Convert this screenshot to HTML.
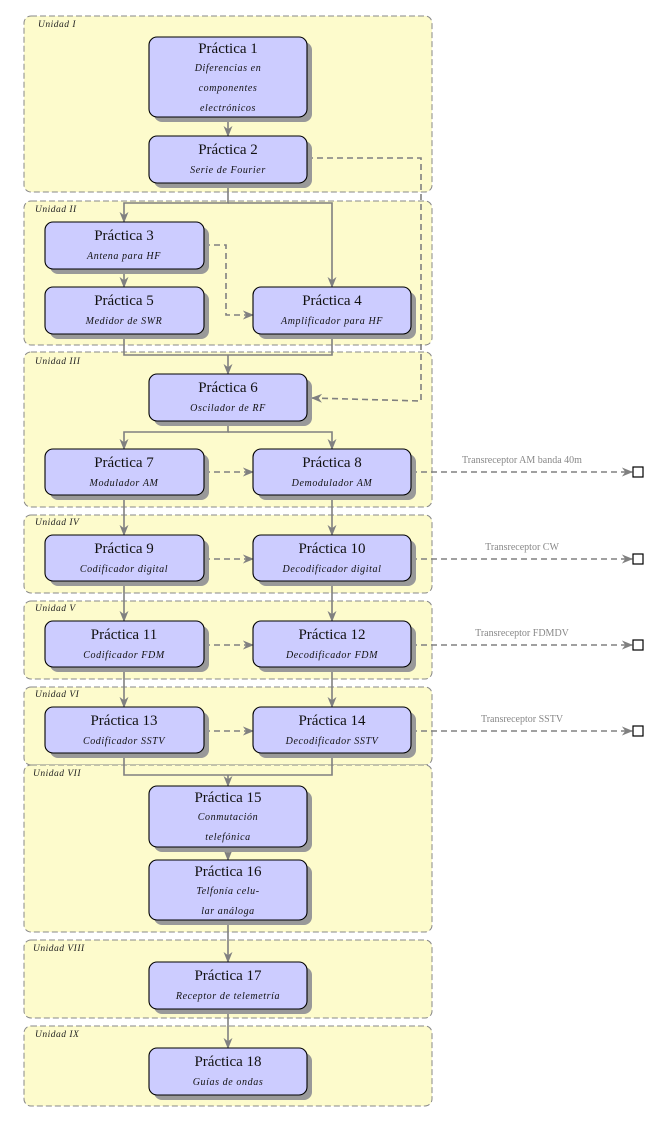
<!DOCTYPE html>
<html><head><meta charset="utf-8"><style>
html,body{margin:0;padding:0;background:#fff;}
svg{display:block;}
.t{font-family:"Liberation Serif",serif;font-size:15px;fill:#111;text-anchor:middle;}
.s{font-family:"Liberation Serif",serif;font-size:10px;font-style:italic;fill:#111;text-anchor:middle;letter-spacing:0.6px;}
.u{font-family:"Liberation Serif",serif;font-size:9.5px;font-style:italic;fill:#222;letter-spacing:0.5px;}
.l{font-family:"Liberation Serif",serif;font-size:10px;fill:#888;text-anchor:middle;}
.c{stroke:#808080;stroke-width:1.6;fill:none;}
.d{stroke:#808080;stroke-width:1.6;fill:none;stroke-dasharray:6,4;}
</style></head><body>
<svg width="656" height="1122" viewBox="0 0 656 1122" xmlns="http://www.w3.org/2000/svg">
<defs><marker id="a" viewBox="0 0 10 10" refX="9" refY="5" markerWidth="7" markerHeight="7" orient="auto"><path d="M0,1 L10,5 L0,9 L3,5 z" fill="#808080"/></marker></defs>
<g fill="#fdfbcc" stroke="#888" stroke-dasharray="6,3" stroke-width="1">
<rect x="24" y="16" width="408" height="176" rx="7"/>
<rect x="24" y="201" width="408" height="144" rx="7"/>
<rect x="24" y="352" width="408" height="155" rx="7"/>
<rect x="24" y="515" width="408" height="78" rx="7"/>
<rect x="24" y="601" width="408" height="78" rx="7"/>
<rect x="24" y="687" width="408" height="78" rx="7"/>
<rect x="24" y="765" width="408" height="167" rx="7"/>
<rect x="24" y="940" width="408" height="78" rx="7"/>
<rect x="24" y="1026" width="408" height="80" rx="7"/>
</g>
<text class="u" x="38" y="27">Unidad I</text>
<text class="u" x="35" y="212">Unidad II</text>
<text class="u" x="35" y="364">Unidad III</text>
<text class="u" x="35" y="525">Unidad IV</text>
<text class="u" x="35" y="611">Unidad V</text>
<text class="u" x="35" y="697">Unidad VI</text>
<text class="u" x="33" y="776">Unidad VII</text>
<text class="u" x="33" y="951">Unidad VIII</text>
<text class="u" x="35" y="1037">Unidad IX</text>

<path class="c" d="M228,117 V136" marker-end="url(#a)"/>
<path class="c" d="M228,183 V203 H124 V222" marker-end="url(#a)"/>
<path class="c" d="M228,203 H332 V287" marker-end="url(#a)"/>
<path class="c" d="M124,269 V287" marker-end="url(#a)"/>
<path class="c" d="M124,334 V355 H332 V334"/>
<path class="c" d="M228,355 V374" marker-end="url(#a)"/>
<path class="c" d="M228,421 V432 H124 V449" marker-end="url(#a)"/>
<path class="c" d="M228,432 H332 V449" marker-end="url(#a)"/>
<path class="c" d="M124,495 V535" marker-end="url(#a)"/>
<path class="c" d="M332,495 V535" marker-end="url(#a)"/>
<path class="c" d="M124,581 V621" marker-end="url(#a)"/>
<path class="c" d="M332,581 V621" marker-end="url(#a)"/>
<path class="c" d="M124,667 V707" marker-end="url(#a)"/>
<path class="c" d="M332,667 V707" marker-end="url(#a)"/>
<path class="c" d="M124,753 V775 H332 V753"/>
<path class="c" d="M228,775 V786" marker-end="url(#a)"/>
<path class="c" d="M228,847 V860" marker-end="url(#a)"/>
<path class="c" d="M228,920 V962" marker-end="url(#a)"/>
<path class="c" d="M228,1009 V1048" marker-end="url(#a)"/>
<path class="d" d="M307,158 H421 V401 L312,398" marker-end="url(#a)"/>
<path class="d" d="M204,245 H226 V315 H253" marker-end="url(#a)"/>
<path class="d" d="M204,472 H253" marker-end="url(#a)"/>
<path class="d" d="M204,559 H253" marker-end="url(#a)"/>
<path class="d" d="M204,645 H253" marker-end="url(#a)"/>
<path class="d" d="M204,731 H253" marker-end="url(#a)"/>
<path class="d" d="M411,472 H632" marker-end="url(#a)"/>
<path class="d" d="M411,559 H632" marker-end="url(#a)"/>
<path class="d" d="M411,645 H632" marker-end="url(#a)"/>
<path class="d" d="M411,731 H632" marker-end="url(#a)"/>
<g fill="#fff" stroke="#000" stroke-width="1.2">
<rect x="633" y="467" width="10" height="10"/><rect x="633" y="554" width="10" height="10"/>
<rect x="633" y="640" width="10" height="10"/><rect x="633" y="726" width="10" height="10"/>
</g>
<text class="l" x="522" y="463">Transreceptor AM banda 40m</text>
<text class="l" x="522" y="550">Transreceptor CW</text>
<text class="l" x="522" y="636">Transreceptor FDMDV</text>
<text class="l" x="522" y="722">Transreceptor SSTV</text>

<g fill="#999"><rect x="154" y="42" width="158" height="80" rx="8"/><rect x="154" y="141" width="158" height="47" rx="8"/>
<rect x="50" y="227" width="159" height="47" rx="8"/><rect x="50" y="292" width="159" height="47" rx="8"/><rect x="258" y="292" width="158" height="47" rx="8"/>
<rect x="154" y="379" width="158" height="47" rx="8"/>
<rect x="50" y="454" width="159" height="46" rx="8"/><rect x="258" y="454" width="158" height="46" rx="8"/>
<rect x="50" y="540" width="159" height="46" rx="8"/><rect x="258" y="540" width="158" height="46" rx="8"/>
<rect x="50" y="626" width="159" height="46" rx="8"/><rect x="258" y="626" width="158" height="46" rx="8"/>
<rect x="50" y="712" width="159" height="46" rx="8"/><rect x="258" y="712" width="158" height="46" rx="8"/>
<rect x="154" y="791" width="158" height="61" rx="8"/><rect x="154" y="865" width="158" height="60" rx="8"/>
<rect x="154" y="967" width="158" height="47" rx="8"/><rect x="154" y="1053" width="158" height="47" rx="8"/></g>
<g fill="#ccccff" stroke="#000" stroke-width="1.1">
<rect x="149" y="37" width="158" height="80" rx="8"/><rect x="149" y="136" width="158" height="47" rx="8"/>
<rect x="45" y="222" width="159" height="47" rx="8"/><rect x="45" y="287" width="159" height="47" rx="8"/><rect x="253" y="287" width="158" height="47" rx="8"/>
<rect x="149" y="374" width="158" height="47" rx="8"/>
<rect x="45" y="449" width="159" height="46" rx="8"/><rect x="253" y="449" width="158" height="46" rx="8"/>
<rect x="45" y="535" width="159" height="46" rx="8"/><rect x="253" y="535" width="158" height="46" rx="8"/>
<rect x="45" y="621" width="159" height="46" rx="8"/><rect x="253" y="621" width="158" height="46" rx="8"/>
<rect x="45" y="707" width="159" height="46" rx="8"/><rect x="253" y="707" width="158" height="46" rx="8"/>
<rect x="149" y="786" width="158" height="61" rx="8"/><rect x="149" y="860" width="158" height="60" rx="8"/>
<rect x="149" y="962" width="158" height="47" rx="8"/><rect x="149" y="1048" width="158" height="47" rx="8"/></g>
<text class="t" x="228" y="53">Práctica 1</text>
<text class="s" x="228" y="71">Diferencias en</text><text class="s" x="228" y="91">componentes</text><text class="s" x="228" y="111">electrónicos</text>
<text class="t" x="228" y="154">Práctica 2</text><text class="s" x="228" y="173">Serie de Fourier</text>
<text class="t" x="124" y="240">Práctica 3</text><text class="s" x="124" y="259">Antena para HF</text>
<text class="t" x="124" y="305">Práctica 5</text><text class="s" x="124" y="324">Medidor de SWR</text>
<text class="t" x="332" y="305">Práctica 4</text><text class="s" x="332" y="324">Amplificador para HF</text>
<text class="t" x="228" y="392">Práctica 6</text><text class="s" x="228" y="411">Oscilador de RF</text>
<text class="t" x="124" y="467">Práctica 7</text><text class="s" x="124" y="486">Modulador AM</text>
<text class="t" x="332" y="467">Práctica 8</text><text class="s" x="332" y="486">Demodulador AM</text>
<text class="t" x="124" y="553">Práctica 9</text><text class="s" x="124" y="572">Codificador digital</text>
<text class="t" x="332" y="553">Práctica 10</text><text class="s" x="332" y="572">Decodificador digital</text>
<text class="t" x="124" y="639">Práctica 11</text><text class="s" x="124" y="658">Codificador FDM</text>
<text class="t" x="332" y="639">Práctica 12</text><text class="s" x="332" y="658">Decodificador FDM</text>
<text class="t" x="124" y="725">Práctica 13</text><text class="s" x="124" y="744">Codificador SSTV</text>
<text class="t" x="332" y="725">Práctica 14</text><text class="s" x="332" y="744">Decodificador SSTV</text>
<text class="t" x="228" y="802">Práctica 15</text><text class="s" x="228" y="820">Conmutación</text><text class="s" x="228" y="840">telefónica</text>
<text class="t" x="228" y="876">Práctica 16</text><text class="s" x="228" y="894">Telfonía celu-</text><text class="s" x="228" y="914">lar análoga</text>
<text class="t" x="228" y="980">Práctica 17</text><text class="s" x="228" y="999">Receptor de telemetría</text>
<text class="t" x="228" y="1066">Práctica 18</text><text class="s" x="228" y="1085">Guías de ondas</text>
</svg>
</body></html>
